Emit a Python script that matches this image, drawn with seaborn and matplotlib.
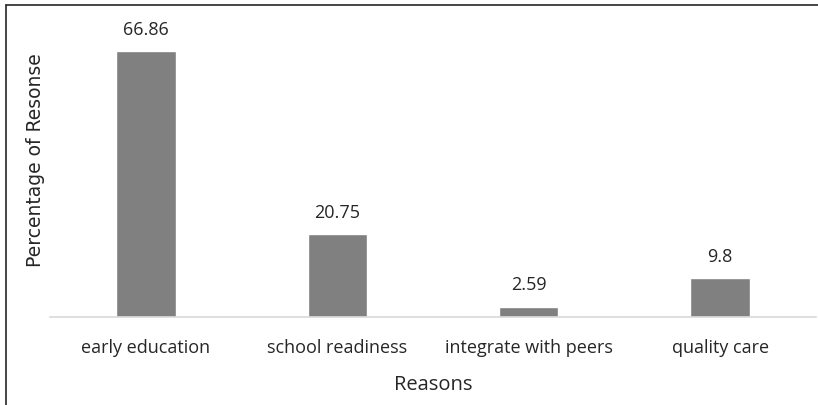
import matplotlib
matplotlib.use("Agg")
import matplotlib.pyplot as plt
import seaborn as sns
import pandas as pd
from matplotlib.lines import Line2D

categories = ["early education", "school readiness", "integrate with peers", "quality care"]
values = [66.86, 20.75, 2.59, 9.8]
value_labels = ["66.86", "20.75", "2.59", "9.8"]

sns.set_theme(style="white")
plt.rcParams['font.family'] = ['Open Sans', 'DejaVu Sans']

df = pd.DataFrame({"Reasons": categories, "Percentage": values})

fig = plt.figure(figsize=(8.18, 4.06), dpi=100)
ax = fig.add_axes([50.25/818, 1 - 318/406, (815.75-50.25)/818, 278.6/406])

sns.barplot(data=df, x="Reasons", y="Percentage", color="#808080", width=0.31,
            saturation=1, ax=ax)
ax.set_ylim(0, 70)
ax.set_xlim(-0.5, 3.5)

for i, (v, lab) in enumerate(zip(values, value_labels)):
    ax.annotate(lab, (i, v), xytext=(0, 16), textcoords="offset points",
                ha="center", va="center", fontsize=13, color="#262626")

for s in ["top", "right", "left"]:
    ax.spines[s].set_visible(False)
ax.spines["bottom"].set_color("#d9d9d9")
ax.spines["bottom"].set_linewidth(1.2)
ax.set_yticks([])
ax.tick_params(axis="x", length=0, pad=15, labelsize=13, labelcolor="#262626")

ax.set_xlabel("Reasons", fontsize=14.5, color="#262626", labelpad=13)
ax.set_ylabel("Percentage of Resonse", fontsize=13.5, color="#262626",
              family=["DejaVu Sans"])
ax.yaxis.set_label_coords(-(50.25-45)/765.5, (318-160)/278.6)

# figure border (left and top)
fig.add_artist(Line2D([6/818, 6/818], [0, 1 - 6/406], transform=fig.transFigure,
                      color="#262626", lw=1.2))
fig.add_artist(Line2D([6/818, 1], [1 - 6/406, 1 - 6/406], transform=fig.transFigure,
                      color="#262626", lw=1.2))

fig.savefig("out.png", dpi=100)
